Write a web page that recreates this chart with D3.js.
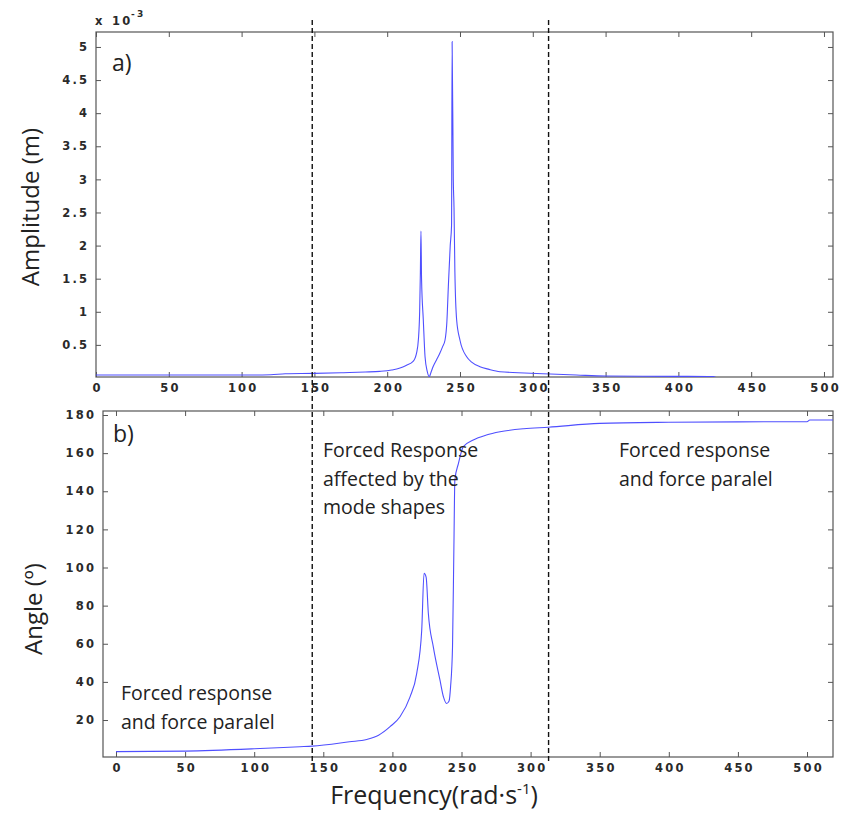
<!DOCTYPE html>
<html>
<head>
<meta charset="utf-8">
<script src="https://d3js.org/d3.v7.min.js"></script>
<style>
  body { margin: 0; background: #fff; }
  .lbl { font-family: "Open Sans", sans-serif; fill: #222; }
  .tk { font-family: "DejaVu Sans", sans-serif; font-size: 11.5px; font-weight: bold; fill: #2a2a2a; letter-spacing: 2.2px; }
</style>
</head>
<body>
<div id="chart"></div>
<script>
// amplitude panel a) : frequency (rad/s) and amplitude (x 10^-3 m)
var ampFreq = [0, 50, 100, 120, 130, 150, 170, 185, 195, 203, 208.8, 213, 217.8, 220.2, 221.5, 222.3, 222.8, 223.2,
               223.6, 224.8, 226, 227.5, 228.9, 230, 231.5, 234, 236.3, 238, 239.7, 241, 242, 243.3, 244.2, 244.6,
               245.4, 245.9, 246.5, 247.7, 250, 254.6, 258, 263.7, 270, 277.5, 290, 312, 330, 350, 400, 424, 426, 506]
var ampVal  = [0.045, 0.045, 0.045, 0.05, 0.065, 0.07, 0.08, 0.09, 0.1, 0.12, 0.15, 0.19, 0.25, 0.38, 0.6, 1.0, 1.6, 2.22,
               1.5, 0.88, 0.32, 0.1, 0.02, 0.08, 0.17, 0.28, 0.38, 0.47, 0.57, 0.85, 1.38, 2.0, 2.3, 5.08,
               3.0, 2.57, 1.6, 0.88, 0.57, 0.32, 0.24, 0.17, 0.13, 0.095, 0.08, 0.06, 0.045, 0.03, 0.025, 0.02, 0.008, 0.005]

// angle panel b) : frequency (rad/s) and phase angle (deg)
var angFreq = [0, 50, 100, 133, 142, 169, 181.4, 190, 198.3, 205.5, 212.7, 217.6, 221.2, 222.9, 224.4, 226, 229.6,
               234.4, 237, 239.2, 241, 242.1, 243.5, 244.5, 245.2, 247.8, 251.3, 258.5, 268, 277.9, 295, 312.8,
               350, 400, 450, 500, 502, 519]
var angVal  = [3.4, 3.7, 4.9, 6.0, 6.3, 8.6, 9.8, 12, 16.5, 21.7, 32, 44.5, 67, 97, 95, 76, 58.4,
               41, 32, 28.7, 30, 37.5, 58.4, 111, 146, 154.6, 163.4, 166.9, 169.5, 171.2, 172.8, 173.6,
               175.6, 176.2, 176.4, 176.5, 177.4, 177.4]

var freqTicks = [0, 50, 100, 150, 200, 250, 300, 350, 400, 450, 500]
var ampTicks = [0.5, 1, 1.5, 2, 2.5, 3, 3.5, 4, 4.5, 5]
var angTicks = [20, 40, 60, 80, 100, 120, 140, 160, 180]
var dividers = [142, 313]

var W = 842, H = 813
var lineColor = "#4f4fff"
var spacing = 2.2

var svg = d3.select("#chart").append("svg")
    .attr("width", W)
    .attr("height", H)

var xA = d3.scaleLinear().domain([0, 506.2]).range([96, 833])
var yA = d3.scaleLinear().domain([0.015, 5.226]).range([377, 32])
var xB = d3.scaleLinear().domain([-9.4, 518.8]).range([103, 833])
var yB = d3.scaleLinear().domain([0.6, 182.1]).range([757, 411])

var drawPanel = function(x, y, xt, yt, id)
{
    var x0 = x.range()[0], x1 = x.range()[1]
    var y0 = y.range()[1], y1 = y.range()[0]

    svg.append("clipPath").attr("id", id)
      .append("rect")
        .attr("x", x0).attr("y", y0)
        .attr("width", x1 - x0).attr("height", y1 - y0)

    var bottom = svg.append("g")
        .attr("transform", "translate(0," + y1 + ")")
        .call(d3.axisBottom(x).tickValues(xt).tickSizeInner(-5).tickSizeOuter(0).tickPadding(7))
    bottom.attr("font-family", null).attr("font-size", null)
    bottom.selectAll("text").attr("class", "tk").attr("dx", spacing / 2)

    svg.append("g")
        .attr("transform", "translate(0," + y0 + ")")
        .call(d3.axisTop(x).tickValues(xt).tickSizeInner(-5).tickSizeOuter(0).tickFormat(""))

    var left = svg.append("g")
        .attr("transform", "translate(" + x0 + ",0)")
        .call(d3.axisLeft(y).tickValues(yt).tickSizeInner(-5).tickSizeOuter(0).tickPadding(9)
              .tickFormat(function(d){ return d.toString() }))
    left.attr("font-family", null).attr("font-size", null)
    left.selectAll("text").attr("class", "tk").attr("dx", spacing)

    svg.append("g")
        .attr("transform", "translate(" + x1 + ",0)")
        .call(d3.axisRight(y).tickValues(yt).tickSizeInner(-5).tickSizeOuter(0).tickFormat(""))

    svg.selectAll(".domain").remove()
    svg.selectAll(".tick line").attr("stroke", "#555")

    svg.append("rect")
        .attr("x", x0).attr("y", y0)
        .attr("width", x1 - x0).attr("height", y1 - y0)
        .attr("fill", "none")
        .attr("stroke", "#555")
        .attr("stroke-width", 1.2)
}

drawPanel(xA, yA, freqTicks, ampTicks, "clipA")
drawPanel(xB, yB, freqTicks, angTicks, "clipB")

var ampLine = d3.line()
    .curve(d3.curveMonotoneX)
    .x(function(d, i){ return xA(ampFreq[i]) })
    .y(function(d){ return yA(d) })
svg.append("path")
    .datum(ampVal)
    .attr("clip-path", "url(#clipA)")
    .attr("d", ampLine)
    .attr("fill", "none")
    .attr("stroke", lineColor)
    .attr("stroke-width", 1.1)

var angLine = d3.line()
    .curve(d3.curveMonotoneX)
    .x(function(d, i){ return xB(angFreq[i]) })
    .y(function(d){ return yB(d) })
svg.append("path")
    .datum(angVal)
    .attr("clip-path", "url(#clipB)")
    .attr("d", angLine)
    .attr("fill", "none")
    .attr("stroke", lineColor)
    .attr("stroke-width", 1.1)

// dashed region dividers run through both panels
svg.selectAll(".divider")
    .data(dividers)
    .enter()
    .append("line")
    .attr("class", "divider")
    .attr("x1", function(d){ return xB(d) })
    .attr("x2", function(d){ return xB(d) })
    .attr("y1", 20)
    .attr("y2", 763)
    .attr("stroke", "#111")
    .attr("stroke-width", 1.4)
    .attr("stroke-dasharray", "5,3")

// exponent label
var expo = svg.append("text")
    .attr("class", "tk")
    .attr("x", 95)
    .attr("y", 25)
expo.append("tspan").text("x")
expo.append("tspan").attr("x", 112).text("10")
expo.append("tspan").attr("x", 131).attr("dy", -8).style("font-size", "9px").text("-3")

var addText = function(x, y, size, lines)
{
    var t = svg.append("text")
        .attr("class", "lbl")
        .attr("x", x)
        .attr("y", y)
        .style("font-size", size + "px")
    lines.forEach(function(s, i){
        t.append("tspan").attr("x", x).attr("dy", i == 0 ? 0 : 28.5).text(s)
    })
}

addText(112, 71, 23, ["a)"])
addText(113, 442, 23, ["b)"])
addText(323, 457, 19.5, ["Forced Response", "affected by the", "mode shapes"])
addText(121, 700, 19.5, ["Forced response", "and force paralel"])
addText(619, 457, 19.5, ["Forced response", "and force paralel"])

svg.append("text")
    .attr("class", "lbl")
    .attr("transform", "translate(39,207) rotate(-90)")
    .attr("text-anchor", "middle")
    .style("font-size", "24px")
    .text("Amplitude (m)")

svg.append("text")
    .attr("class", "lbl")
    .attr("transform", "translate(42,609) rotate(-90)")
    .attr("text-anchor", "middle")
    .style("font-size", "24px")
    .text("Angle (º)")

var xl = svg.append("text")
    .attr("class", "lbl")
    .attr("x", 434)
    .attr("y", 804)
    .attr("text-anchor", "middle")
    .style("font-size", "25px")
xl.append("tspan").text("Frequency(rad·s")
xl.append("tspan").attr("dy", -10).style("font-size", "15px").text("-1")
xl.append("tspan").attr("dy", 10).text(")")
</script>
</body>
</html>
